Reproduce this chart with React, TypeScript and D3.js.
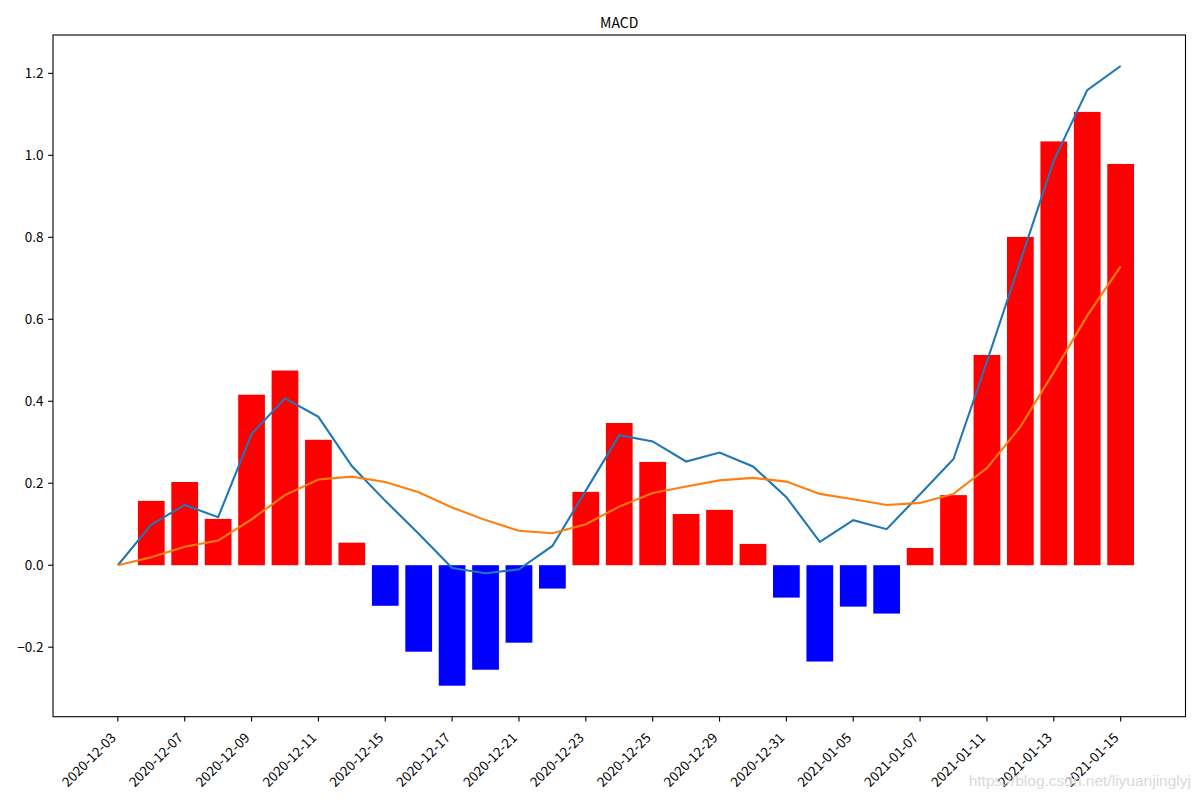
import * as d3 from "d3";
import * as React from "react";

const dates = [
  "2020-12-03", "2020-12-04", "2020-12-07", "2020-12-08", "2020-12-09",
  "2020-12-10", "2020-12-11", "2020-12-14", "2020-12-15", "2020-12-16",
  "2020-12-17", "2020-12-18", "2020-12-21", "2020-12-22", "2020-12-23",
  "2020-12-24", "2020-12-25", "2020-12-28", "2020-12-29", "2020-12-30",
  "2020-12-31", "2021-01-04", "2021-01-05", "2021-01-06", "2021-01-07",
  "2021-01-08", "2021-01-11", "2021-01-12", "2021-01-13", "2021-01-14",
  "2021-01-15",
];

// DIF (blue line)
const dif = [
  0, 0.099, 0.147, 0.117, 0.32, 0.407, 0.362, 0.242, 0.157, 0.077,
  -0.007, -0.0195, -0.01, 0.047, 0.182, 0.317, 0.302, 0.253, 0.275, 0.241,
  0.166, 0.057, 0.11, 0.088, 0.173, 0.259, 0.497, 0.742, 0.987, 1.159,
  1.218,
];

// DEA (orange line)
const dea = [
  0, 0.0195, 0.045, 0.06, 0.112, 0.171, 0.209, 0.216, 0.203, 0.178,
  0.141, 0.11, 0.084, 0.078, 0.1, 0.143, 0.176, 0.192, 0.207, 0.213,
  0.204, 0.174, 0.161, 0.147, 0.152, 0.174, 0.237, 0.338, 0.471, 0.609,
  0.729,
];

// MACD histogram
const macd = [
  0, 0.157, 0.203, 0.113, 0.416, 0.475, 0.306, 0.055, -0.099, -0.211,
  -0.294, -0.255, -0.189, -0.057, 0.179, 0.347, 0.252, 0.125, 0.135, 0.052,
  -0.079, -0.235, -0.101, -0.118, 0.042, 0.171, 0.513, 0.801, 1.034, 1.106,
  0.979,
];

const yTicks = [-0.2, 0, 0.2, 0.4, 0.6, 0.8, 1.0, 1.2];

const font = "SimHei, 'Noto Sans CJK SC', sans-serif";

export default function App() {
  const width = 1200;
  const height = 800;
  const left = 53;
  const right = 1185.5;
  const top = 35;
  const bottom = 716.7;

  const svgRef = React.useRef<SVGSVGElement>(null);

  React.useEffect(() => {
    const el = svgRef.current;
    if (el == null) return;
    const svg = d3.select(el);
    svg.selectAll("*").remove();

    const idx = d3.range(dates.length);
    const lo = Math.min(d3.min(macd) ?? 0, d3.min(dif) ?? 0);
    const hi = Math.max(d3.max(macd) ?? 0, d3.max(dif) ?? 0);
    const pad = (hi - lo) * 0.05;

    const x = d3.scaleLinear([-0.4 - 30.8 * 0.05, 30.4 + 30.8 * 0.05], [left, right]);
    const y = d3.scaleLinear([lo - pad, hi + pad], [bottom, top]);
    const bw = x(0.8) - x(0);

    svg.append("rect").attr("width", width).attr("height", height).attr("fill", "#fff");

    svg
      .append("g")
      .selectAll("rect")
      .data(idx)
      .join("rect")
      .attr("x", (i) => x(i) - bw / 2)
      .attr("width", bw)
      .attr("y", (i) => y(Math.max(0, macd[i])))
      .attr("height", (i) => Math.abs(y(macd[i]) - y(0)))
      .attr("fill", (i) => (macd[i] >= 0 ? "#ff0000" : "#0000ff"));

    const line = (vals: number[]) =>
      d3
        .line<number>()
        .x((i) => x(i))
        .y((i) => y(vals[i]))(idx);

    svg
      .append("path")
      .attr("d", line(dif))
      .attr("fill", "none")
      .attr("stroke", "#1f77b4")
      .attr("stroke-width", 2.1);

    svg
      .append("path")
      .attr("d", line(dea))
      .attr("fill", "none")
      .attr("stroke", "#ff7f0e")
      .attr("stroke-width", 2.1);

    svg
      .append("rect")
      .attr("x", left)
      .attr("y", top)
      .attr("width", right - left)
      .attr("height", bottom - top)
      .attr("fill", "none")
      .attr("stroke", "#000")
      .attr("stroke-width", 1.1);

    // y axis
    const fmt = d3.format(".1f");
    const gy = svg.append("g").attr("font-family", font).attr("font-size", 13.5);
    gy.selectAll("line")
      .data(yTicks)
      .join("line")
      .attr("x1", left - 4.9)
      .attr("x2", left)
      .attr("y1", (d) => y(d))
      .attr("y2", (d) => y(d))
      .attr("stroke", "#000")
      .attr("stroke-width", 1.1);
    gy.selectAll("text")
      .data(yTicks)
      .join("text")
      .attr("x", left - 9.5)
      .attr("y", (d) => y(d))
      .attr("dy", "0.36em")
      .attr("text-anchor", "end")
      .text((d) => fmt(d).replace("-", "\u2212"));

    // x axis, every second trading day
    const xTicks = idx.filter((i) => i % 2 === 0);
    const gx = svg.append("g").attr("font-family", font).attr("font-size", 13.5);
    gx.selectAll("line")
      .data(xTicks)
      .join("line")
      .attr("x1", (i) => x(i))
      .attr("x2", (i) => x(i))
      .attr("y1", bottom)
      .attr("y2", bottom + 4.9)
      .attr("stroke", "#000")
      .attr("stroke-width", 1.1);
    gx.selectAll("text")
      .data(xTicks)
      .join("text")
      .attr("transform", (i) => `translate(${x(i) - 1},${bottom + 22}) rotate(-45)`)
      .attr("text-anchor", "end")
      .text((i) => dates[i]);

    svg
      .append("text")
      .attr("x", (left + right) / 2)
      .attr("y", 28)
      .attr("text-anchor", "middle")
      .attr("font-family", font)
      .attr("font-size", 14)
      .text("MACD");

    svg
      .append("text")
      .attr("x", 1191)
      .attr("y", 786)
      .attr("text-anchor", "end")
      .attr("font-family", "'Liberation Sans', Arial, sans-serif")
      .attr("font-size", 15.5)
      .attr("fill", "#d9d9d9")
      .text("https://blog.csdn.net/liyuanjinglyj");
  }, []);

  return (
    <div style={{ position: "absolute", left: 0, top: 0 }}>
      <svg ref={svgRef} width={width} height={height} viewBox={`0 0 ${width} ${height}`} style={{ display: "block" }} />
    </div>
  );
}
